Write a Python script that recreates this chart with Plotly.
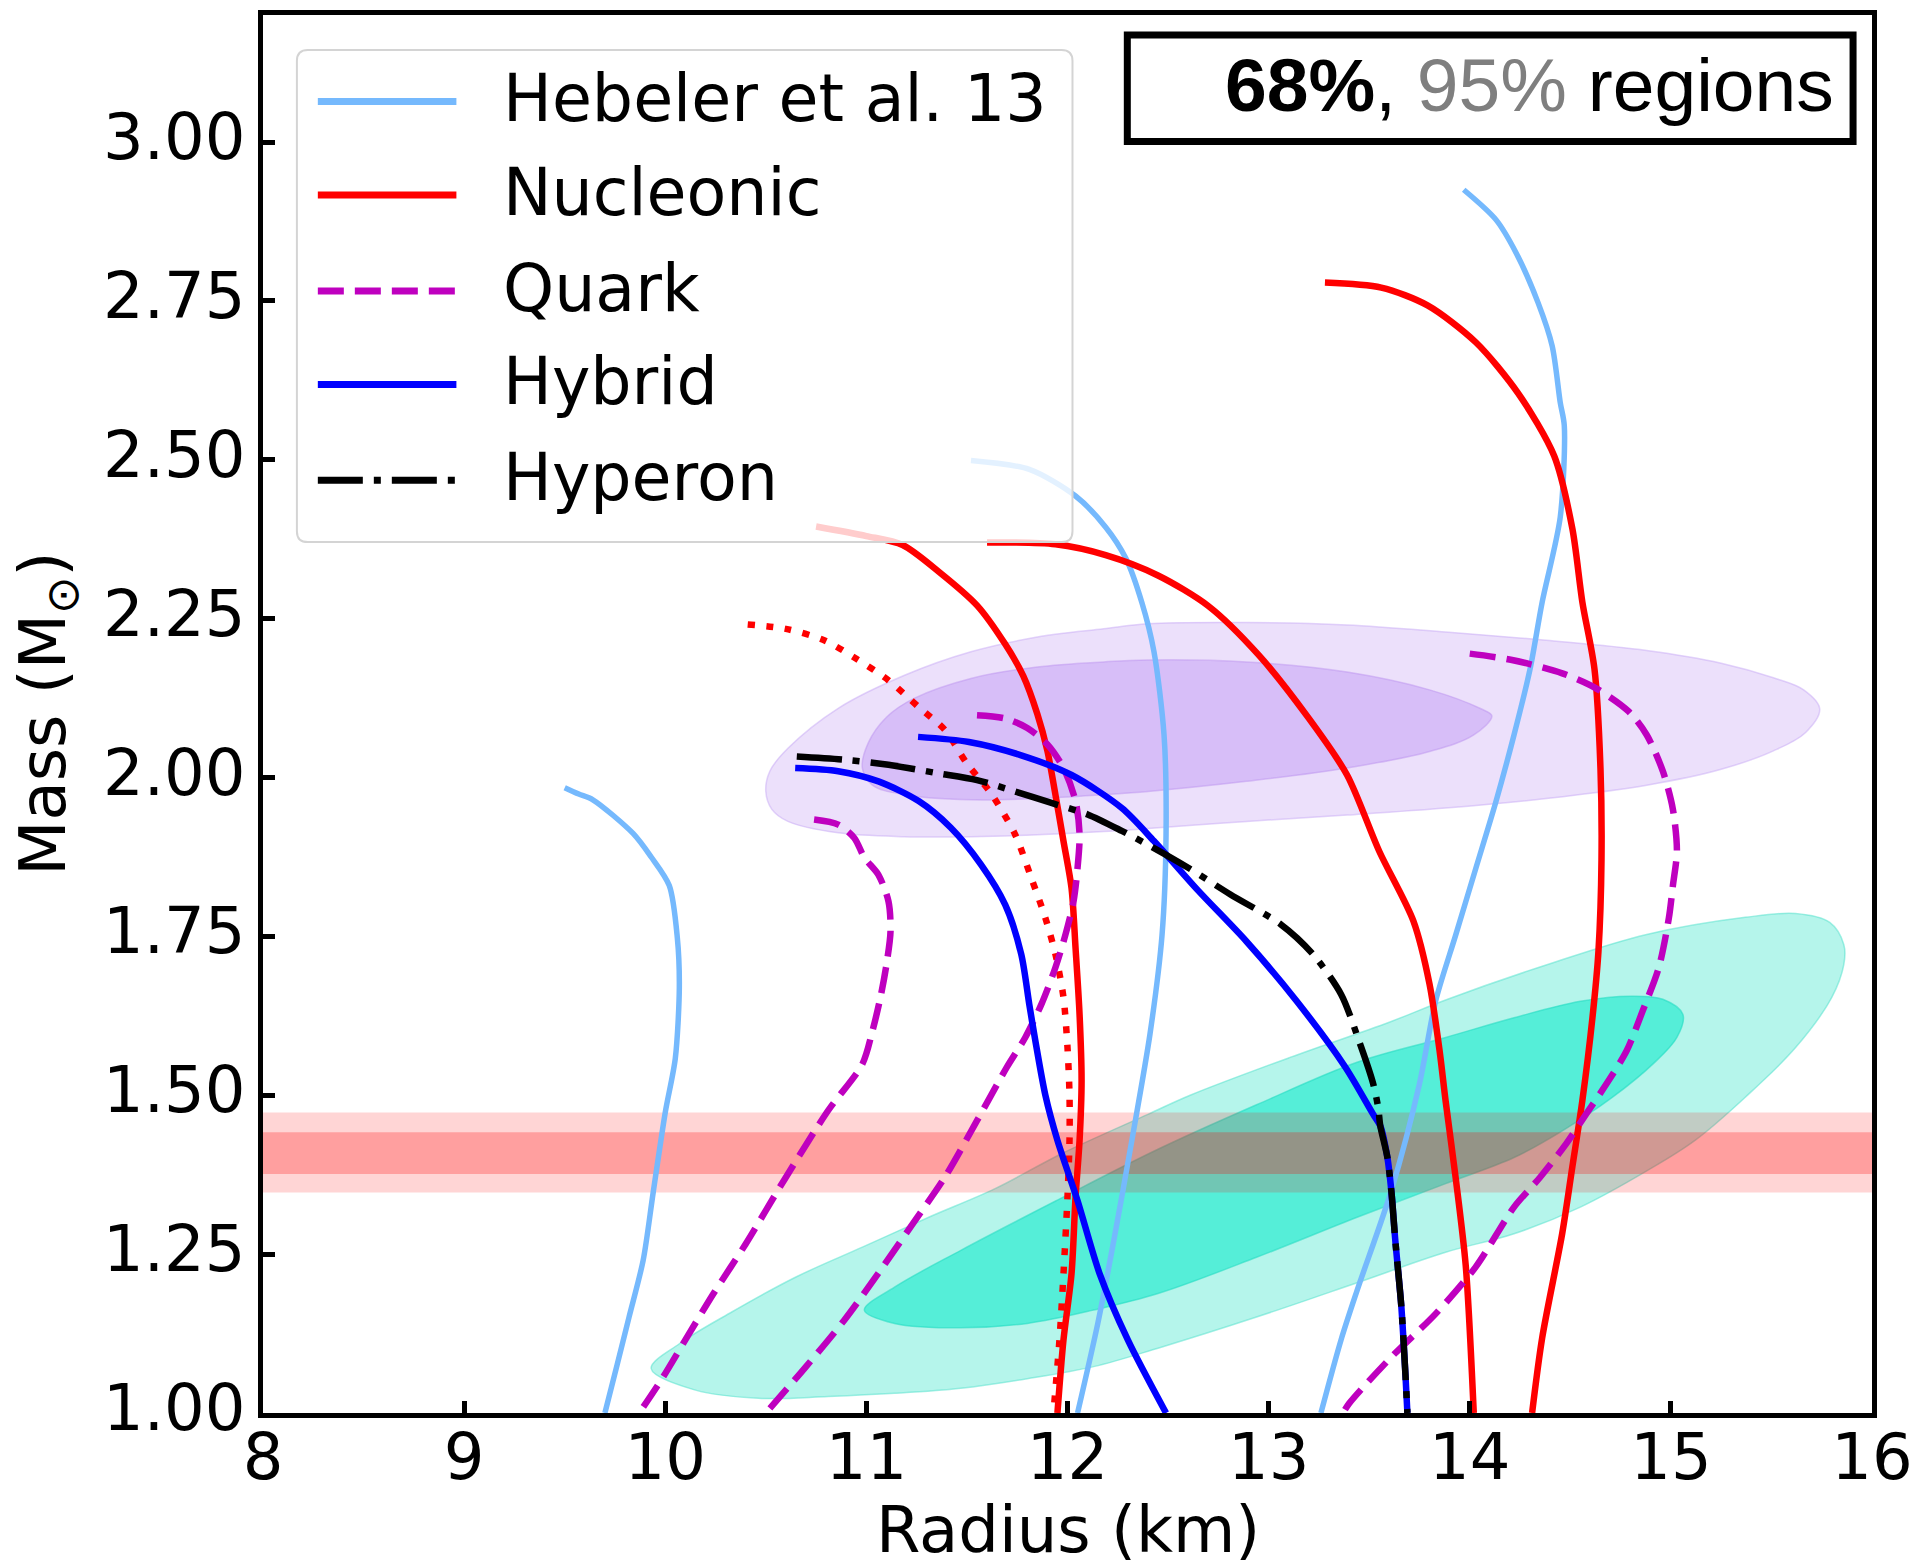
import plotly.graph_objects as go

# ---------------- mass-radius curves (R in km, M in solar masses) ----------------
# Hebeler et al. 13 (soft / intermediate / stiff)
heb_soft_r = [9.50, 9.57, 9.64, 9.84, 9.93, 10.02, 10.06, 10.07, 10.05, 10.00, 9.94, 9.89, 9.82, 9.76, 9.70]
heb_soft_m = [1.984, 1.974, 1.965, 1.912, 1.875, 1.830, 1.748, 1.670, 1.558, 1.473, 1.347, 1.240, 1.151, 1.075, 1.000]
heb_mid_r = [11.52, 11.81, 12.04, 12.19, 12.29, 12.37, 12.43, 12.48, 12.49, 12.47, 12.41, 12.32, 12.23, 12.15, 12.05]
heb_mid_m = [2.499, 2.485, 2.443, 2.394, 2.345, 2.275, 2.198, 2.067, 1.910, 1.752, 1.596, 1.429, 1.271, 1.140, 1.000]
heb_stiff_r = [13.97, 14.13, 14.23, 14.34, 14.41, 14.45, 14.47, 14.45, 14.36, 14.30, 14.22, 14.13, 14.03,
               13.93, 13.83, 13.75, 13.61, 13.44, 13.36, 13.26]
heb_stiff_m = [2.925, 2.878, 2.826, 2.747, 2.679, 2.590, 2.554, 2.410, 2.276, 2.171, 2.067, 1.962, 1.857,
               1.752, 1.648, 1.518, 1.350, 1.193, 1.115, 1.000]

# Nucleonic
nuc_a_r = [10.75, 11.00, 11.18, 11.36, 11.55, 11.69, 11.78, 11.85, 11.90, 11.94, 11.98, 12.02, 12.04,
           12.06, 12.07, 12.06, 12.04, 12.02, 11.98, 11.95]
nuc_a_m = [2.395, 2.380, 2.366, 2.324, 2.271, 2.210, 2.160, 2.100, 2.042, 1.973, 1.900, 1.826, 1.732,
           1.627, 1.523, 1.429, 1.340, 1.219, 1.115, 1.000]
nuc_b_r = [11.60, 11.94, 12.19, 12.45, 12.70, 12.95, 13.20, 13.39, 13.55, 13.72, 13.80, 13.85, 13.88,
           13.93, 13.98, 14.02]
nuc_b_m = [2.370, 2.367, 2.350, 2.318, 2.270, 2.193, 2.093, 2.004, 1.884, 1.774, 1.675, 1.570, 1.491,
           1.370, 1.232, 1.000]
nuc_c_r = [13.28, 13.56, 13.79, 14.03, 14.24, 14.42, 14.51, 14.56, 14.62, 14.65, 14.655, 14.64, 14.61,
           14.56, 14.51, 14.46, 14.36, 14.31]
nuc_c_m = [2.779, 2.771, 2.743, 2.685, 2.605, 2.506, 2.392, 2.276, 2.171, 2.014, 1.870, 1.727, 1.622,
           1.492, 1.387, 1.283, 1.118, 1.000]
nuc_dot_r = [10.41, 10.60, 10.79, 10.95, 11.11, 11.26, 11.39, 11.50, 11.62, 11.74, 11.82, 11.89, 11.94,
             11.98, 12.00, 12.01, 12.01, 12.00, 11.98, 11.96, 11.93]
nuc_dot_m = [2.241, 2.234, 2.216, 2.187, 2.153, 2.111, 2.075, 2.022, 1.975, 1.910, 1.842, 1.779, 1.722,
             1.654, 1.575, 1.500, 1.429, 1.340, 1.219, 1.115, 1.000]

# Quark
qrk_a_r = [10.74, 10.86, 10.94, 10.99, 11.06, 11.11, 11.12, 11.10, 11.07, 11.03, 10.98, 10.81, 10.59,
           10.40, 10.24, 10.10, 9.98, 9.87]
qrk_a_m = [1.934, 1.926, 1.905, 1.874, 1.847, 1.805, 1.758, 1.706, 1.654, 1.601, 1.549, 1.476, 1.366,
           1.266, 1.188, 1.115, 1.052, 1.000]
qrk_b_r = [11.55, 11.69, 11.80, 11.90, 11.98, 12.04, 12.06, 12.05, 12.03, 11.99, 11.94, 11.87, 11.79,
           11.70, 11.55, 11.39, 11.22, 11.06, 10.89, 10.70, 10.50]
qrk_b_m = [2.098, 2.093, 2.078, 2.052, 2.015, 1.963, 1.910, 1.858, 1.805, 1.753, 1.701, 1.643, 1.591,
           1.545, 1.460, 1.371, 1.293, 1.220, 1.146, 1.073, 1.000]
qrk_c_r = [14.00, 14.21, 14.46, 14.63, 14.79, 14.88, 14.96, 15.01, 15.03, 15.01, 14.99, 14.94, 14.86,
           14.78, 14.68, 14.58, 14.48, 14.35, 14.22, 14.03, 13.83, 13.61, 13.40, 13.37]
qrk_c_m = [2.195, 2.185, 2.164, 2.140, 2.104, 2.067, 2.010, 1.950, 1.884, 1.830, 1.779, 1.701, 1.633,
           1.570, 1.518, 1.471, 1.424, 1.371, 1.324, 1.230, 1.156, 1.088, 1.015, 1.000]

# Hybrid
hyb_a_r = [10.646, 10.86, 11.06, 11.26, 11.42, 11.57, 11.69, 11.77, 11.81, 11.84, 11.89, 11.95, 12.05,
           12.16, 12.30, 12.49]
hyb_a_m = [2.015, 2.010, 1.994, 1.963, 1.921, 1.863, 1.800, 1.722, 1.643, 1.586, 1.500, 1.429, 1.334,
           1.219, 1.115, 1.000]
hyb_b_r = [11.257, 11.51, 11.77, 12.02, 12.27, 12.43, 12.65, 12.89, 13.14, 13.38, 13.52, 13.555, 13.59,
           13.61, 13.63, 13.66, 13.68, 13.69]
hyb_b_m = [2.064, 2.056, 2.035, 2.004, 1.952, 1.900, 1.822, 1.742, 1.648, 1.545, 1.470, 1.452, 1.403,
           1.350, 1.271, 1.167, 1.062, 1.000]

# Hyperon
hyp_r = [10.654, 10.89, 11.11, 11.35, 11.55, 11.74, 11.92, 12.10, 12.27, 12.43, 12.60, 12.81, 13.06,
         13.22, 13.36, 13.45, 13.52, 13.545, 13.555, 13.59, 13.61, 13.63, 13.66, 13.68, 13.69]
hyp_m = [2.033, 2.028, 2.020, 2.007, 1.996, 1.978, 1.960, 1.942, 1.916, 1.889, 1.858, 1.816, 1.769,
         1.722, 1.659, 1.585, 1.518, 1.480, 1.452, 1.403, 1.350, 1.271, 1.167, 1.062, 1.000]

# ---------------- credible regions (boundary outlines) ----------------
purple95_r = [11.52, 11.85, 12.18, 12.40, 12.89, 13.39, 13.88, 14.38, 14.88, 15.25, 15.51, 15.67, 15.74,
              15.66, 15.51, 15.25, 14.88, 14.38, 13.88, 13.39, 12.89, 12.40, 12.18, 11.85, 11.52, 11.19,
              10.86, 10.61, 10.52, 10.50, 10.53, 10.61, 10.86, 11.19, 11.52]
purple95_m = [1.907, 1.910, 1.915, 1.920, 1.931, 1.941, 1.952, 1.967, 1.988, 2.013, 2.042, 2.071, 2.108,
              2.138, 2.157, 2.180, 2.200, 2.216, 2.229, 2.240, 2.244, 2.242, 2.234, 2.221, 2.198, 2.161,
              2.109, 2.046, 2.010, 1.978, 1.950, 1.931, 1.913, 1.907, 1.907]
purple68_r = [11.85, 12.18, 12.40, 12.89, 13.39, 13.80, 14.02, 14.11, 14.05, 13.80, 13.39, 12.89, 12.40,
              12.18, 11.85, 11.52, 11.24, 11.10, 11.01, 10.98, 11.03, 11.19, 11.52, 11.85]
purple68_m = [1.967, 1.973, 1.978, 1.994, 2.015, 2.041, 2.067, 2.097, 2.109, 2.138, 2.166, 2.182, 2.185,
              2.182, 2.174, 2.156, 2.125, 2.095, 2.055, 2.015, 1.988, 1.973, 1.965, 1.967]
cyan95_r = [11.47, 11.80, 12.13, 12.45, 12.94, 13.44, 13.88, 14.22, 14.55, 14.88, 15.12, 15.37, 15.62,
            15.80, 15.86, 15.86, 15.79, 15.62, 15.37, 14.88, 14.38, 13.88, 13.60, 13.11, 12.61, 12.40,
            11.97, 11.64, 11.31, 10.98, 10.65, 10.32, 10.07, 9.93, 10.15, 10.48, 10.81, 11.14, 11.47]
cyan95_m = [1.039, 1.054, 1.073, 1.102, 1.151, 1.205, 1.253, 1.282, 1.324, 1.381, 1.429, 1.497, 1.575,
            1.654, 1.706, 1.737, 1.772, 1.786, 1.780, 1.753, 1.705, 1.650, 1.615, 1.560, 1.500, 1.470,
            1.408, 1.353, 1.308, 1.261, 1.214, 1.157, 1.109, 1.070, 1.036, 1.023, 1.026, 1.031, 1.039]
cyan68_r = [11.80, 12.13, 12.45, 12.94, 13.44, 13.88, 14.22, 14.46, 14.71, 14.91, 15.03, 15.06, 14.96,
            14.80, 14.55, 14.22, 13.88, 13.44, 12.94, 12.45, 11.95, 11.47, 11.14, 10.99, 11.14, 11.47, 11.80]
cyan68_m = [1.141, 1.162, 1.188, 1.245, 1.308, 1.361, 1.402, 1.444, 1.497, 1.549, 1.591, 1.627, 1.651,
            1.656, 1.648, 1.622, 1.591, 1.552, 1.485, 1.415, 1.335, 1.256, 1.198, 1.162, 1.141, 1.134, 1.141]

# horizontal mass band (68% inner, 95% outer)
band_r = [8, 16, 16, 8, 8]
band95 = [1.347, 1.473]
band68 = [1.376, 1.442]

# axis ticks
radius_ticks = [8, 9, 10, 11, 12, 13, 14, 15, 16]
mass_ticks = [1.00, 1.25, 1.50, 1.75, 2.00, 2.25, 2.50, 2.75, 3.00]

# legend entries
legend_labels = ["Hebeler et al. 13", "Nucleonic", "Quark", "Hybrid", "Hyperon"]

# ---------------- styles ----------------
C_HEB = "#75b9fd"
C_NUC = "#ff0000"
C_QRK = "#bf00bf"
C_HYB = "#0000ff"
C_HYP = "#000000"
DASH_QRK = "26px,11px"
DASH_HYP = "45px,11px,7px,11px"
DASH_DOT = "7px,11.5px"
LW = 6.5

fig = go.Figure()


def region(r, m, fill, edge):
    fig.add_trace(go.Scatter(x=r, y=m, mode="lines", fill="toself", fillcolor=fill,
                             line=dict(color=edge, width=1.5, shape="spline", smoothing=1.0),
                             hoverinfo="skip", showlegend=False))


def curve(r, m, color, dash="solid", width=LW):
    fig.add_trace(go.Scatter(x=r, y=m, mode="lines",
                             line=dict(color=color, width=width, dash=dash, shape="spline", smoothing=0.8),
                             hoverinfo="skip", showlegend=False))


region(cyan95_r, cyan95_m, "#b5f5eb", "rgba(90,225,205,0.55)")
region(cyan68_r, cyan68_m, "#55eed8", "rgba(40,220,195,0.6)")
region(purple95_r, purple95_m, "#ece0fb", "rgba(200,170,245,0.5)")
region(purple68_r, purple68_m, "#d7bef8", "rgba(190,150,240,0.5)")

for lo_hi, alpha in ((band95, 0.165), (band68, 0.25)):
    lo, hi = lo_hi
    fig.add_trace(go.Scatter(x=band_r, y=[lo, lo, hi, hi, lo], mode="lines", fill="toself",
                             fillcolor=f"rgba(255,0,0,{alpha})", line=dict(width=0),
                             hoverinfo="skip", showlegend=False))

curve(heb_soft_r, heb_soft_m, C_HEB, width=5.5)
curve(heb_mid_r, heb_mid_m, C_HEB, width=5.5)
curve(heb_stiff_r, heb_stiff_m, C_HEB, width=5.5)
curve(nuc_dot_r, nuc_dot_m, C_NUC, dash=DASH_DOT)
curve(nuc_a_r, nuc_a_m, C_NUC)
curve(nuc_b_r, nuc_b_m, C_NUC)
curve(nuc_c_r, nuc_c_m, C_NUC)
curve(qrk_a_r, qrk_a_m, C_QRK, dash=DASH_QRK)
curve(qrk_b_r, qrk_b_m, C_QRK, dash=DASH_QRK)
curve(qrk_c_r, qrk_c_m, C_QRK, dash=DASH_QRK)
curve(hyb_a_r, hyb_a_m, C_HYB)
curve(hyb_b_r, hyb_b_m, C_HYB)
curve(hyp_r, hyp_m, C_HYP, dash=DASH_HYP)

# ---------------- layout ----------------
W, H = 1923, 1563
ML, MR, MT, MB = 263, 46, 10, 150
PW, PH = W - ML - MR, H - MT - MB


def px_x(px):
    return (px - ML) / PW


def px_y(py):
    return (H - MB - py) / PH


TICK_FONT = dict(family="DejaVu Sans", size=64, color="black")

fig.update_layout(
    width=W, height=H,
    margin=dict(l=ML, r=MR, t=MT, b=MB, pad=0),
    paper_bgcolor="white", plot_bgcolor="white",
    showlegend=False,
    xaxis=dict(range=[8, 16], tickvals=radius_ticks, ticktext=[str(v) for v in radius_ticks],
               ticks="inside", ticklen=12, tickwidth=5, tickcolor="black",
               showline=True, linewidth=5, linecolor="black", mirror=True,
               showgrid=False, zeroline=False, tickfont=TICK_FONT, ticklabelstandoff=-16),
    yaxis=dict(range=[1, 3.2], tickvals=mass_ticks, ticktext=[f"{v:.2f}" for v in mass_ticks],
               ticks="inside", ticklen=12, tickwidth=5, tickcolor="black",
               showline=True, linewidth=5, linecolor="black", mirror=True,
               showgrid=False, zeroline=False, showticklabels=False),
)

# y tick labels placed as text next to each tick
for v in mass_ticks:
    fig.add_annotation(x=px_x(248), y=v, xref="paper", yref="y", showarrow=False,
                       text=f"{v:.2f}", font=TICK_FONT, xanchor="right", yanchor="middle", yshift=5)

# axis titles
fig.add_annotation(x=0.5, y=px_y(1530), xref="paper", yref="paper", showarrow=False,
                   text="Radius (km)", font=dict(family="DejaVu Sans", size=64, color="black"),
                   xanchor="center", yanchor="middle")
fig.add_annotation(x=px_x(46), y=0.5, xref="paper", yref="paper", showarrow=False,
                   text="Mass (M<sub>⊙</sub>)", textangle=-90,
                   font=dict(family="DejaVu Sans", size=64, color="black"),
                   xanchor="center", yanchor="middle")

# legend frame (rounded, semi-transparent)
lx0, lx1 = px_x(297), px_x(1075)
ly0, ly1 = px_y(539), px_y(45)
rx, ry = 11 / PW, 11 / PH
legend_path = (f"M {lx0 + rx},{ly0} L {lx1 - rx},{ly0} Q {lx1},{ly0} {lx1},{ly0 + ry} "
               f"L {lx1},{ly1 - ry} Q {lx1},{ly1} {lx1 - rx},{ly1} L {lx0 + rx},{ly1} "
               f"Q {lx0},{ly1} {lx0},{ly1 - ry} L {lx0},{ly0 + ry} Q {lx0},{ly0} {lx0 + rx},{ly0} Z")
fig.add_shape(type="path", path=legend_path, xref="paper", yref="paper",
              fillcolor="rgba(255,255,255,0.8)", line=dict(color="#d4d4d4", width=2), layer="above")

legend_styles = [(C_HEB, "solid"), (C_NUC, "solid"), (C_QRK, DASH_QRK), (C_HYB, "solid"), (C_HYP, DASH_HYP)]
row_y = [96.7, 190.7, 287.0, 380.7, 477.0]
for label, (col, dash), yy in zip(legend_labels, legend_styles, row_y):
    fig.add_shape(type="line", xref="paper", yref="paper",
                  x0=px_x(318), x1=px_x(457), y0=px_y(yy), y1=px_y(yy),
                  line=dict(color=col, width=7, dash=dash), layer="above")
    fig.add_annotation(x=px_x(502), y=px_y(yy - 3), xref="paper", yref="paper", showarrow=False,
                       text=label, font=dict(family="DejaVu Sans", size=65, color="black"),
                       xanchor="left", yanchor="middle")

# credible-region caption box
fig.add_shape(type="rect", xref="paper", yref="paper",
              x0=px_x(1130), x1=px_x(1858), y0=px_y(137), y1=px_y(30),
              fillcolor="white", line=dict(color="black", width=7), layer="above")
fig.add_annotation(x=px_x(1841), y=px_y(80), xref="paper", yref="paper", showarrow=False,
                   text="<b>68%</b>, <span style='color:#7f7f7f'>95%</span> regions",
                   font=dict(family="Liberation Sans", size=75, color="black"),
                   xanchor="right", yanchor="middle")

fig.write_html("out.html")
